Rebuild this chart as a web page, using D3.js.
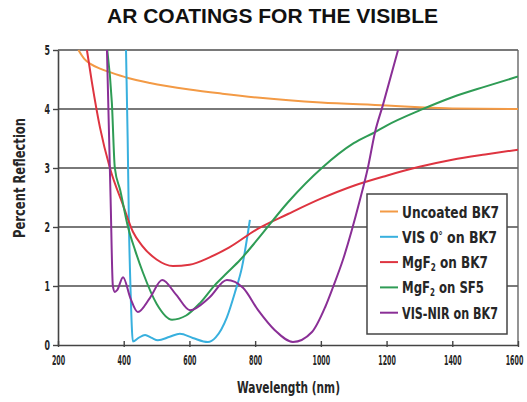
<!DOCTYPE html>
<html>
<head>
<meta charset="utf-8">
<script src="https://cdn.jsdelivr.net/npm/d3@7"></script>
<style>
  html, body { margin: 0; padding: 0; background: #fff; }
  svg { display: block; }
  .narrow { font-family: 'Liberation Sans Narrow', 'DejaVu Sans Condensed', sans-serif; font-weight: bold; fill: #262626; }
</style>
</head>
<body>
<svg id="chart" width="527" height="402"></svg>
<script>
// Reflection spectra (percent) vs wavelength (nm) for each coating
const uncoatedWl = [262, 280, 300, 330, 360, 410, 480, 600, 700, 815, 1000, 1200, 1300, 1400, 1600];
const uncoatedR  = [5.0, 4.85, 4.76, 4.68, 4.62, 4.53, 4.44, 4.33, 4.26, 4.19, 4.11, 4.06, 4.03, 4.01, 4.0];

const visWl = [407, 412, 416, 421, 428, 445, 465, 485, 504, 540, 571, 610, 656, 680, 714, 739, 760, 784];
const visR  = [5.0, 3.5, 2.0, 0.9, 0.06, 0.12, 0.17, 0.12, 0.08, 0.14, 0.19, 0.12, 0.05, 0.13, 0.47, 0.9, 1.32, 2.12];

const mgBk7Wl = [288, 303, 328, 358, 398, 428, 455, 500, 550, 600, 663, 720, 805, 900, 1000, 1100, 1200, 1300, 1400, 1500, 1600];
const mgBk7R  = [5.0, 4.46, 3.68, 3.0, 2.37, 1.92, 1.69, 1.45, 1.34, 1.36, 1.49, 1.65, 1.96, 2.22, 2.48, 2.7, 2.87, 3.02, 3.14, 3.23, 3.31];

const mgSf5Wl = [350, 364, 373, 389, 413, 435, 459, 500, 547, 590, 632, 678, 714, 754, 806, 900, 1003, 1100, 1165, 1200, 1302, 1400, 1500, 1600];
const mgSf5R  = [5.0, 4.1, 3.0, 2.63, 2.0, 1.6, 1.22, 0.7, 0.43, 0.5, 0.71, 1.02, 1.22, 1.44, 1.78, 2.42, 3.0, 3.42, 3.61, 3.72, 3.98, 4.2, 4.38, 4.55];

const visNirWl = [349, 360, 367, 373, 380, 398, 420, 443, 480, 517, 560, 602, 660, 714, 763, 809, 860, 915, 973, 1013, 1037, 1067, 1119, 1143, 1165, 1189, 1235];
const visNirR  = [5.0, 2.5, 1.0, 0.9, 0.93, 1.15, 0.8, 0.56, 0.8, 1.1, 0.85, 0.59, 0.8, 1.1, 0.97, 0.59, 0.25, 0.05, 0.22, 0.64, 0.98, 1.44, 2.46, 3.0, 3.61, 4.07, 5.0];

const seriesNames  = ["Uncoated BK7", "VIS 0° on BK7", "MgF2 on BK7", "MgF2 on SF5", "VIS-NIR on BK7"];
const seriesColors = ["#f39a45", "#38b0de", "#de3440", "#2f9c55", "#8a2f96"];
const seriesWl = [uncoatedWl, visWl, mgBk7Wl, mgSf5Wl, visNirWl];
const seriesR  = [uncoatedR, visR, mgBk7R, mgSf5R, visNirR];

const xTicks = [200, 400, 600, 800, 1000, 1200, 1400, 1600];
const yTicks = [0, 1, 2, 3, 4, 5];

const svg = d3.select("#chart");
const plotLeft = 58, plotRight = 518, plotTop = 50, plotBottom = 345;

const x = d3.scaleLinear().domain([200, 1600]).range([plotLeft, plotRight]);
const y = d3.scaleLinear().domain([0, 5]).range([plotBottom, plotTop]);

// Squeeze a text element horizontally so it spans the given width
function squeezeTo(textSel, px, py, width) {
  const w = textSel.node().getComputedTextLength();
  const s = w > 0 ? width / w : 1;
  textSel.attr("x", 0).attr("y", 0)
    .attr("transform", `translate(${px},${py}) scale(${s},1)`);
}

// Title
svg.append("text")
  .attr("x", 272.5).attr("y", 23)
  .attr("text-anchor", "middle")
  .attr("font-family", "'Liberation Sans', Arial, sans-serif")
  .attr("font-weight", "bold")
  .attr("font-size", 20)
  .attr("textLength", 331)
  .attr("lengthAdjust", "spacingAndGlyphs")
  .attr("fill", "#111")
  .text("AR COATINGS FOR THE VISIBLE");

// Horizontal gridlines
svg.append("g").selectAll("line")
  .data(yTicks.filter(d => d > 0))
  .join("line")
  .attr("x1", plotLeft).attr("x2", plotRight)
  .attr("y1", d => y(d)).attr("y2", d => y(d))
  .attr("stroke", "#4d4d4d").attr("stroke-width", 1.7);

// Right border
svg.append("line")
  .attr("x1", plotRight).attr("x2", plotRight)
  .attr("y1", plotTop).attr("y2", plotBottom)
  .attr("stroke", "#666").attr("stroke-width", 1.4);

// Axes
const xAxis = svg.append("g")
  .attr("transform", `translate(0,${plotBottom})`)
  .call(d3.axisBottom(x).tickValues(xTicks).tickFormat(d3.format("d")).tickSizeInner(-4).tickSizeOuter(0));
xAxis.select(".domain").attr("stroke", "#444").attr("stroke-width", 1.6);
xAxis.selectAll(".tick line").attr("stroke", "#444").attr("stroke-width", 1.4).attr("y1", 2);
xAxis.selectAll(".tick text")
  .attr("class", "narrow")
  .attr("font-size", 14)
  .attr("dy", "0.71em")
  .each(function (d) {
    squeezeTo(d3.select(this), d === 1600 ? -4 : 0, 10, String(d).length * 4.4);
  });

const yAxis = svg.append("g")
  .attr("transform", `translate(${plotLeft},0)`)
  .call(d3.axisLeft(y).tickValues(yTicks).tickFormat(d3.format("d")).tickSizeInner(5).tickSizeOuter(0).tickPadding(3));
yAxis.select(".domain").attr("stroke", "#444").attr("stroke-width", 1.6);
yAxis.selectAll(".tick line").attr("stroke", "#444").attr("stroke-width", 1.4);
yAxis.selectAll(".tick text")
  .attr("class", "narrow")
  .attr("font-size", 14)
  .attr("dy", "0.32em")
  .each(function () {
    squeezeTo(d3.select(this), -8, 0, 5.5);
  });

// Axis titles
svg.append("text")
  .attr("class", "narrow")
  .attr("x", 288.5).attr("y", 393)
  .attr("text-anchor", "middle")
  .attr("font-size", 16.5)
  .attr("textLength", 103)
  .attr("lengthAdjust", "spacingAndGlyphs")
  .text("Wavelength (nm)");

svg.append("text")
  .attr("class", "narrow")
  .attr("transform", "translate(25,178) rotate(-90)")
  .attr("text-anchor", "middle")
  .attr("font-size", 16.5)
  .attr("textLength", 120)
  .attr("lengthAdjust", "spacingAndGlyphs")
  .text("Percent Reflection");

// Curves
svg.append("clipPath").attr("id", "plotClip")
  .append("rect").attr("x", plotLeft).attr("y", plotTop - 1)
  .attr("width", plotRight - plotLeft).attr("height", plotBottom - plotTop + 1);

const line = d3.line()
  .x(d => x(d[0]))
  .y(d => y(d[1]))
  .curve(d3.curveMonotoneX);

const curves = svg.append("g").attr("clip-path", "url(#plotClip)");
seriesNames.forEach((name, i) => {
  const pts = seriesWl[i].map((w, j) => [w, seriesR[i][j]]);
  curves.append("path")
    .datum(pts)
    .attr("fill", "none")
    .attr("stroke", seriesColors[i])
    .attr("stroke-width", 2)
    .attr("stroke-linejoin", "round")
    .attr("d", line);
});

// Legend
const legend = svg.append("g");
legend.append("rect")
  .attr("x", 367).attr("y", 194).attr("width", 140).attr("height", 140)
  .attr("fill", "#fff").attr("stroke", "#444").attr("stroke-width", 1.5);

const labelWidths = [97, 95, 86, 82, 96];
const rowY = i => 217.5 + i * 25.3;
seriesNames.forEach((name, i) => {
  legend.append("line")
    .attr("x1", 380).attr("x2", 398)
    .attr("y1", rowY(i) - 6).attr("y2", rowY(i) - 6)
    .attr("stroke", seriesColors[i]).attr("stroke-width", 2);
  const t = legend.append("text")
    .attr("class", "narrow")
    .attr("font-size", 16.5);
  if (name.startsWith("MgF2")) {
    t.append("tspan").text("MgF");
    t.append("tspan").attr("font-size", 10).attr("dy", 3).text("2");
    t.append("tspan").attr("dy", -3).text(name.slice(4));
  } else if (name.startsWith("VIS 0°")) {
    t.append("tspan").text("VIS 0");
    t.append("tspan").attr("font-size", 11).attr("dy", -4).text("°");
    t.append("tspan").attr("dy", 4).text("\u00a0on BK7");
  } else {
    t.text(name);
  }
  squeezeTo(t, 402, rowY(i), labelWidths[i]);
});
</script>
</body>
</html>
